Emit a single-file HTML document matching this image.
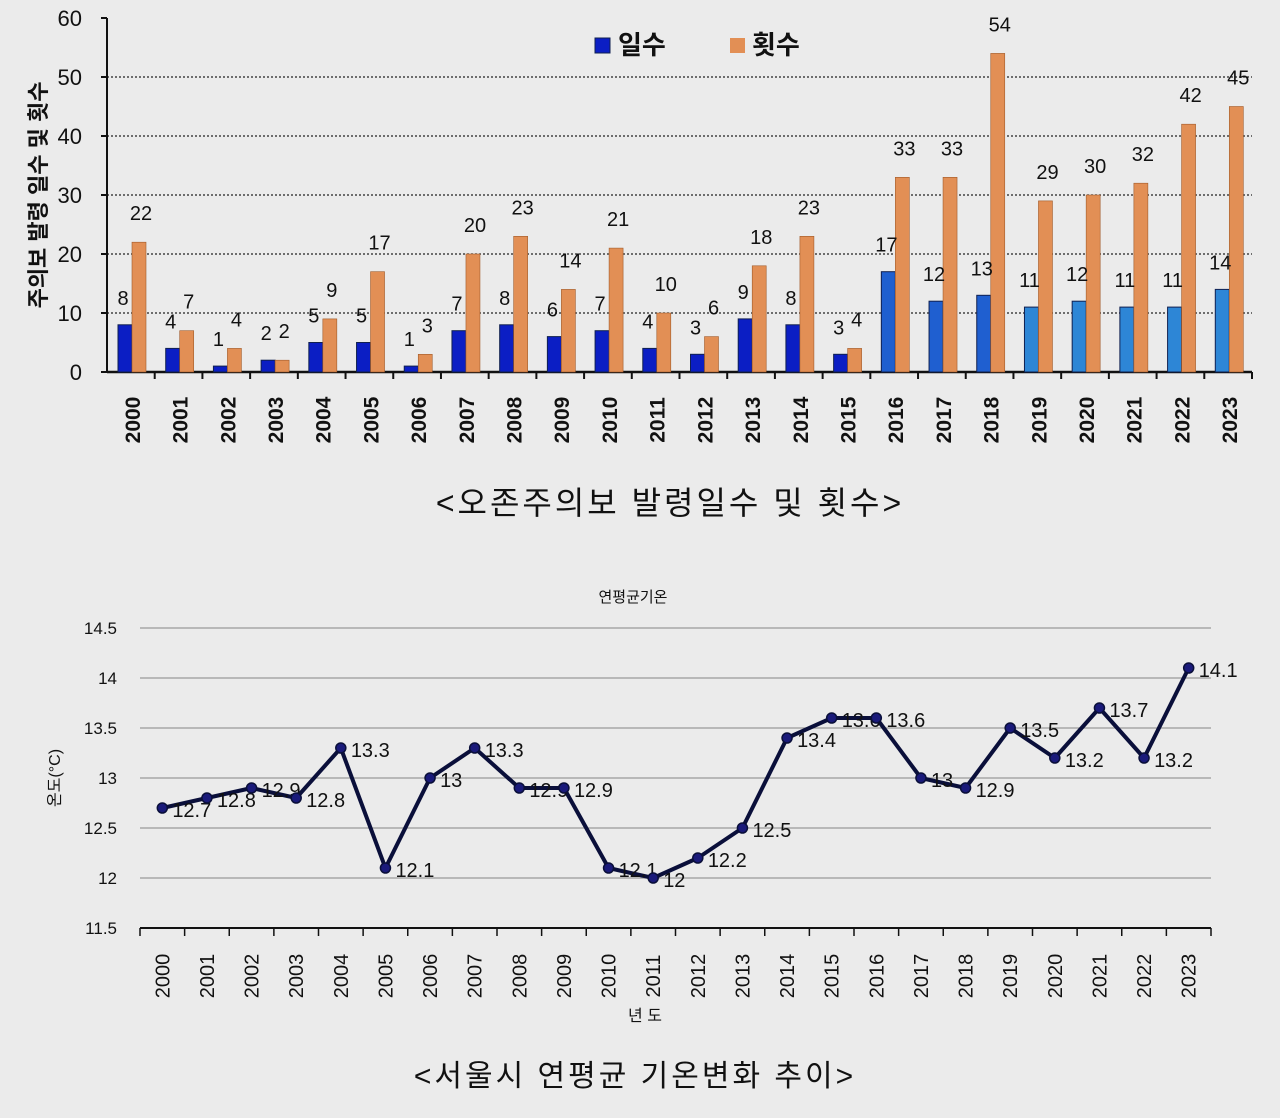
<!DOCTYPE html>
<html><head><meta charset="utf-8"><style>
html,body{margin:0;padding:0;background:#ebebeb;}
svg{display:block;font-family:"Liberation Sans","Noto Sans CJK KR",sans-serif;}
</style></head><body>
<svg id="s" width="1280" height="1118" viewBox="0 0 1280 1118" xmlns="http://www.w3.org/2000/svg">
<rect width="1280" height="1118" fill="#ebebeb"/>
</svg>
<script>
const s=document.getElementById('s');let h='';
const days=[8,4,1,2,5,5,1,7,8,6,7,4,3,9,8,3,17,12,13,11,12,11,11,14];
const cnt=[22,7,4,2,9,17,3,20,23,14,21,10,6,18,23,4,33,33,54,29,30,32,42,45];
const tmp=[12.7,12.8,12.9,12.8,13.3,12.1,13,13.3,12.9,12.9,12.1,12,12.2,12.5,13.4,13.6,13.6,13,12.9,13.5,13.2,13.7,13.2,14.1];
const X0=107,X1=1252,Y0=372,sc=5.9,gw=(X1-X0)/24;
for(let v=10;v<=50;v+=10){const y=Y0-v*sc;h+=`<line x1="${X0}" y1="${y}" x2="${X1}" y2="${y}" stroke="#222" stroke-width="1.3" stroke-dasharray="2,2"/>`;}
for(let v=0;v<=60;v+=10){const y=Y0-v*sc;h+=`<text x="82" y="${y+8}" font-size="22" text-anchor="end" fill="#111">${v}</text><line x1="${X0-6}" y1="${y}" x2="${X0}" y2="${y}" stroke="#111" stroke-width="2"/>`;}
h+=`<line x1="${X0}" y1="18" x2="${X0}" y2="${Y0}" stroke="#111" stroke-width="2"/><line x1="${X0}" y1="${Y0}" x2="${X1}" y2="${Y0}" stroke="#111" stroke-width="2.5"/>`;
for(let i=0;i<24;i++){
 const gx=X0+i*gw, tx=gx+gw;
 h+=`<line x1="${tx}" y1="${Y0}" x2="${tx}" y2="${Y0+7}" stroke="#111" stroke-width="2"/>`;
 const bx=gx+11, ox=bx+14;
 const bc=i>=16?(i<=18?'#1f5fd0':'#2d86d6'):'#0b1ec4';
 const bh=days[i]*sc, oh=cnt[i]*sc;
 h+=`<rect x="${bx}" y="${Y0-bh}" width="14" height="${bh}" fill="${bc}" stroke="#102050" stroke-width="1"/>`;
 h+=`<rect x="${ox}" y="${Y0-oh}" width="14" height="${oh}" fill="#e28f55" stroke="#a05a2a" stroke-width="0.6"/>`;
 h+=`<text x="${bx+5}" y="${Y0-bh-20}" font-size="20" text-anchor="middle" fill="#111">${days[i]}</text>`;
 h+=`<text x="${ox+9}" y="${Y0-oh-22}" font-size="20" text-anchor="middle" fill="#111">${cnt[i]}</text>`;
 const cx=gx+gw/2+2;
 h+=`<text transform="translate(${cx+7},420) rotate(-90)" font-size="21" font-weight="bold" text-anchor="middle" fill="#111">${2000+i}</text>`;
}
h+=`<text transform="translate(46,195) rotate(-90)" font-size="22" font-weight="bold" text-anchor="middle" fill="#111">주의보 발령 일수 및 횟수</text>`;
h+=`<rect x="595" y="38" width="15" height="15" fill="#0b1ec4" stroke="#102050"/><text x="618" y="54" font-size="26" font-weight="bold" fill="#111">일수</text>`;
h+=`<rect x="730" y="38" width="15" height="15" fill="#e28f55"/><text x="752" y="54" font-size="26" font-weight="bold" fill="#111">횟수</text>`;
h+=`<text x="670" y="514" font-size="32" letter-spacing="3" text-anchor="middle" fill="#111">&lt;오존주의보 발령일수 및 횟수&gt;</text>`;
const L0=140,L1=1211,B=928,lw=(L1-L0)/24;const ty=v=>B-(v-11.5)*100;
for(let v=11.5;v<=14.51;v+=0.5){const y=ty(v);if(v>11.6)h+=`<line x1="${L0}" y1="${y}" x2="${L1}" y2="${y}" stroke="#999" stroke-width="1.2"/>`;
 h+=`<text x="117" y="${y+6}" font-size="17" text-anchor="end" fill="#111">${+v.toFixed(1)}</text>`;}
h+=`<line x1="${L0}" y1="${B}" x2="${L1}" y2="${B}" stroke="#111" stroke-width="2"/>`;
let pts=[];
for(let i=0;i<=24;i++){const x=L0+i*lw;h+=`<line x1="${x}" y1="${B}" x2="${x}" y2="${B+8}" stroke="#111" stroke-width="1.5"/>`;}
for(let i=0;i<24;i++){const x=L0+lw*(i+0.5),y=ty(tmp[i]);pts.push(x+','+y);
 h+=`<text transform="translate(${x+7},976) rotate(-90)" font-size="20" text-anchor="middle" fill="#111">${2000+i}</text>`;}
h+=`<polyline points="${pts.join(' ')}" fill="none" stroke="#0a0f3a" stroke-width="4" stroke-linejoin="round"/>`;
for(let i=0;i<24;i++){const x=L0+lw*(i+0.5),y=ty(tmp[i]);
 h+=`<circle cx="${x}" cy="${y}" r="5" fill="#1a1a7a" stroke="#0a0f3a" stroke-width="1.5"/>`;
 h+=`<text x="${x+10}" y="${y+9}" font-size="20" fill="#111">${tmp[i]}</text>`;}
h+=`<text x="633" y="602" font-size="15" text-anchor="middle" fill="#111">연평균기온</text>`;
h+=`<text transform="translate(60,778) rotate(-90)" font-size="16" text-anchor="middle" fill="#111">온도(°C)</text>`;
h+=`<text x="645" y="1021" font-size="16" text-anchor="middle" fill="#111">년 도</text>`;
h+=`<text x="635" y="1086" font-size="30" letter-spacing="3" text-anchor="middle" fill="#111">&lt;서울시 연평균 기온변화 추이&gt;</text>`;
s.innerHTML+=h;
</script>
</body></html>
